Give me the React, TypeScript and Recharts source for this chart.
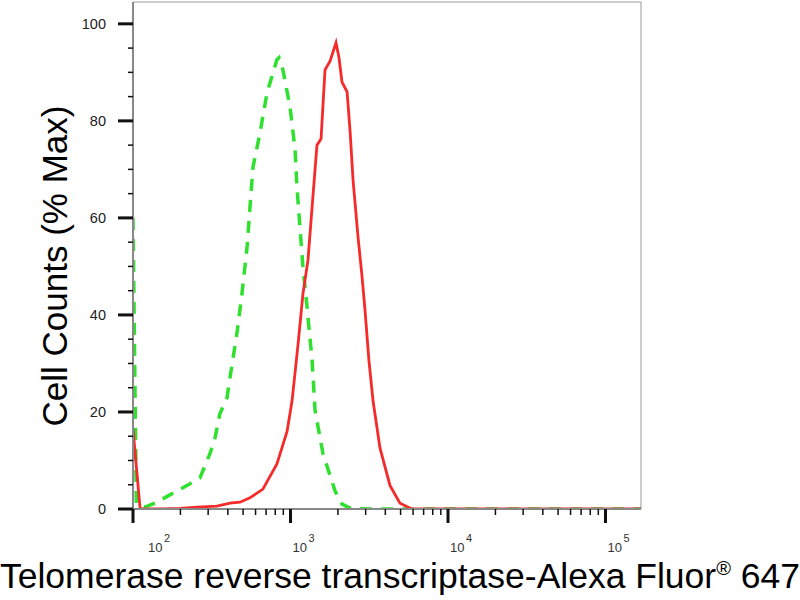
import { LineChart, Line, XAxis, YAxis, ReferenceLine } from "recharts";

const X_MIN = 100;
const X_MAX = 168000;
const Y_MAX = 104.5;

// isotype control (green, dashed)
const isotypeX = [
  100, 105, 119, 138, 167, 230, 266, 308, 332, 356, 395, 413, 457, 492, 530,
  553, 578, 640, 710, 820, 845, 895, 993, 1069, 1099, 1148, 1200, 1274, 1371,
  1432, 1607, 1919, 2123, 2388, 3162, 168000,
];
const isotypeCounts = [
  60, 1, 0.4, 1.2, 2.7, 5.2, 6.4, 11.4, 14.7, 19.6, 22.9, 27.1, 36.2, 44.4, 54,
  62.2, 70.5, 77.5, 85.8, 92.6, 93, 90.5, 82.9, 74, 66.4, 58.1, 49.8, 41.6,
  30.6, 20.3, 11.4, 3.7, 1, 0.2, 0, 0,
];

// Telomerase reverse transcriptase stained sample (red)
const sampleX = [
  100, 111, 155, 199, 255, 341, 413, 478, 553, 668, 820, 951, 1023, 1117, 1200,
  1291, 1371, 1472, 1563, 1656, 1782, 1945, 2032, 2123, 2286, 2388, 2495, 2685,
  2844, 2972, 3148, 3342, 3698, 4285, 4955, 5902, 168000,
];
const sampleCounts = [
  16.5, 0, 0, 0.1, 0.4, 0.6, 1.2, 1.4, 2.3, 4.1, 9.3, 16, 22.3, 34, 44.4, 51.3,
  62.2, 75, 76.3, 90.5, 92.3, 96.1, 93, 88, 86, 78, 67.8, 56, 48, 41, 30.6,
  22.3, 12.6, 4.8, 1.2, 0, 0,
];

const xMajorTicks = [100, 1000, 10000, 100000];
const xAllTicks = [
  100, 200, 300, 400, 500, 600, 700, 800, 900,
  1000, 2000, 3000, 4000, 5000, 6000, 7000, 8000, 9000,
  10000, 20000, 30000, 40000, 50000, 60000, 70000, 80000, 90000,
  100000,
];
const yAllTicks = [0, 5, 10, 15, 20, 25, 30, 35, 40, 45, 50, 55, 60, 65, 70, 75, 80, 85, 90, 95, 100];

const isotypeData = isotypeX.map((x, i) => ({ x, count: isotypeCounts[i] }));
const sampleData = sampleX.map((x, i) => ({ x, count: sampleCounts[i] }));

const FONT = "'Liberation Sans', Arial, Helvetica, sans-serif";

function XTick(props: any) {
  const { x, y, payload } = props;
  const v = payload.value;
  const major = xMajorTicks.includes(v);
  const exp = Math.round(Math.log10(v));
  const lx = x + (v === X_MIN ? 15 : 2);
  return (
    <g>
      <line
        x1={x}
        x2={x}
        y1={y}
        y2={y + (major ? 14 : 6)}
        stroke="#111"
        strokeWidth={major ? 3 : 1.5}
      />
      {major && (
        <>
          <text x={lx} y={y + 43} fontSize={13} fill="#333" fontFamily={FONT}>
            10
          </text>
          <text x={lx + 16} y={y + 33} fontSize={11} fill="#333" fontFamily={FONT}>
            {exp}
          </text>
        </>
      )}
    </g>
  );
}

function YTick(props: any) {
  const { x, y, payload } = props;
  const v = payload.value;
  const major = v % 20 === 0;
  return (
    <g>
      <line
        x1={x - (major ? 15 : 5)}
        x2={x}
        y1={y}
        y2={y}
        stroke="#111"
        strokeWidth={major ? 3 : 1.5}
      />
      {major && (
        <text x={x - 27} y={y + 5} textAnchor="end" fontSize={14.5} fill="#222" fontFamily={FONT}>
          {v}
        </text>
      )}
    </g>
  );
}

export default function App() {
  return (
    <div style={{ position: "absolute", left: 0, top: 0, width: 800, height: 600, background: "#fff" }}>
      <LineChart
        width={800}
        height={600}
        margin={{ top: 2, right: 159, left: 0, bottom: 0 }}
      >
        <XAxis
          dataKey="x"
          type="number"
          scale="log"
          domain={[X_MIN, X_MAX]}
          allowDataOverflow
          ticks={xAllTicks}
          interval={0}
          tick={<XTick />}
          tickLine={false}
          tickSize={0}
          tickMargin={0}
          height={91}
          axisLine={{ stroke: "#888", strokeWidth: 2 }}
        />
        <YAxis
          type="number"
          domain={[0, Y_MAX]}
          allowDataOverflow
          ticks={yAllTicks}
          interval={0}
          tick={<YTick />}
          tickLine={false}
          tickSize={0}
          tickMargin={0}
          width={133}
          axisLine={{ stroke: "#888", strokeWidth: 2 }}
        />
        <ReferenceLine y={Y_MAX} stroke="#999" strokeWidth={1} />
        <ReferenceLine x={X_MAX} stroke="#999" strokeWidth={1} />
        <Line
          data={isotypeData}
          dataKey="count"
          type="linear"
          stroke="#2fe02f"
          strokeWidth={3.5}
          strokeDasharray="12 9"
          dot={false}
          isAnimationActive={false}
        />
        <Line
          data={sampleData}
          dataKey="count"
          type="linear"
          stroke="#f52a2a"
          strokeWidth={2.8}
          dot={false}
          isAnimationActive={false}
        />
      </LineChart>
      <svg
        width={800}
        height={600}
        style={{ position: "absolute", left: 0, top: 0, pointerEvents: "none" }}
      >
        <text
          x={67}
          y={266}
          transform="rotate(-90 67 266)"
          textAnchor="middle"
          fontSize={35}
          fill="#000"
          fontFamily={FONT}
        >
          Cell Counts (% Max)
        </text>
        <text x={400} y={588} textAnchor="middle" fontSize={35.5} fill="#000" fontFamily={FONT}>
          Telomerase reverse transcriptase-Alexa Fluor
          <tspan dy={-13} fontSize={20}>®</tspan>
          <tspan dy={13}> 647</tspan>
        </text>
      </svg>
    </div>
  );
}
